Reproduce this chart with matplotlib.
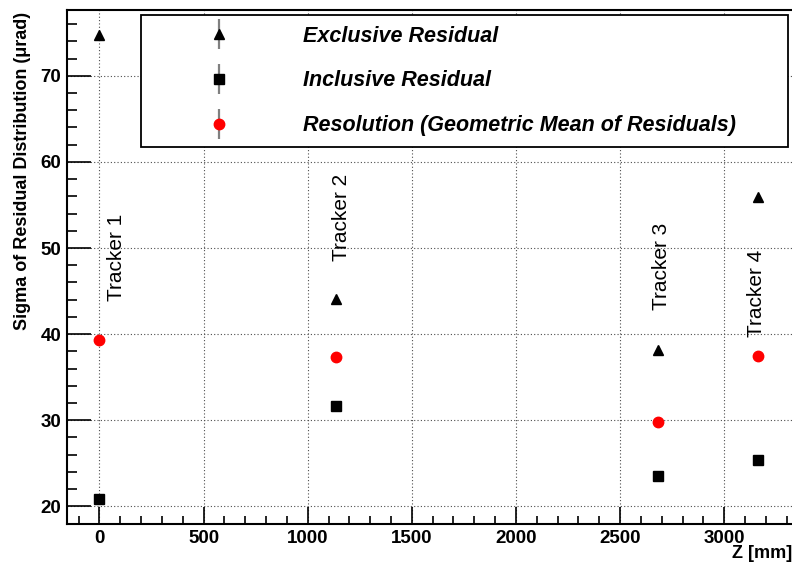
import numpy as np
import matplotlib
matplotlib.use('Agg')
import matplotlib.pyplot as plt
from matplotlib.ticker import MultipleLocator
from matplotlib.legend_handler import HandlerErrorbar

plt.rcParams['font.family'] = ['Liberation Sans', 'DejaVu Sans']

# Data
z_pos = [0, 1138, 2680, 3161]
exclusive = [74.7, 44.1, 38.2, 55.9]
inclusive = [20.9, 31.6, 23.5, 25.4]
resolution = [39.35, 37.3, 29.8, 37.5]
no_err = [0, 0, 0, 0]

tracker_names = ['Tracker 1', 'Tracker 2', 'Tracker 3', 'Tracker 4']
tracker_x = [84, 1161, 2699, 3156]
tracker_y = [43.9, 48.5, 42.8, 39.7]

# Figure and axes
fig = plt.figure(figsize=(7.92, 5.63), dpi=100)
ax = fig.add_axes([67/792, 1 - 524/563, 728/792, 514.5/563])

err_kw = dict(ecolor='0.5', elinewidth=1.6, capsize=0, linestyle='none')
h1 = ax.errorbar(z_pos, exclusive, yerr=no_err, fmt='^', color='black',
                 markersize=7, label='Exclusive Residual', **err_kw)
h2 = ax.errorbar(z_pos, inclusive, yerr=no_err, fmt='s', color='black',
                 markersize=7, label='Inclusive Residual', **err_kw)
h3 = ax.errorbar(z_pos, resolution, yerr=no_err, fmt='o', color='#ff0000',
                 markersize=7.5, label='Resolution (Geometric Mean of Residuals)', **err_kw)

# Tracker labels
for name, tx, ty in zip(tracker_names, tracker_x, tracker_y):
    ax.text(tx, ty, name, rotation=90, ha='center', va='bottom', fontsize=15)

# Axis ranges and ticks
ax.set_xlim(-156, 3340)
ax.set_ylim(17.95, 77.7)
ax.xaxis.set_major_locator(MultipleLocator(500))
ax.xaxis.set_minor_locator(MultipleLocator(100))
ax.yaxis.set_major_locator(MultipleLocator(10))
ax.yaxis.set_minor_locator(MultipleLocator(2))
ax.tick_params(which='both', direction='in', top=False, right=False,
               labelsize=13.5, color='black', width=1.2)
ax.tick_params(axis='x', which='major', length=12, pad=4)
ax.tick_params(axis='x', which='minor', length=6)
ax.tick_params(axis='y', which='major', length=17, pad=4)
ax.tick_params(axis='y', which='minor', length=7)
for lbl in ax.get_xticklabels() + ax.get_yticklabels():
    lbl.set_fontweight('bold')

ax.grid(True, which='major', color='0.3', linestyle=(0, (1, 2)), linewidth=0.8)
for sp in ax.spines.values():
    sp.set_linewidth(1.5)

# Axis titles
ax.set_ylabel('Sigma of Residual Distribution (\u03bcrad)', fontsize=13,
              fontweight='bold', loc='top')
ax.yaxis.set_label_coords(-0.05, 0.995)
ax.set_xlabel('Z [mm]', fontsize=13, fontweight='bold', loc='right')
ax.xaxis.set_label_coords(0.996, -0.04)

# Legend
leg = ax.legend(handles=[h1, h2, h3], loc='upper left',
                bbox_to_anchor=(140.5/792, 1 - 144/563, 647.5/792, 129/563),
                bbox_transform=fig.transFigure, mode='expand', borderaxespad=0,
                fancybox=False, framealpha=1, edgecolor='black',
                prop={'size': 15.5, 'weight': 'bold', 'style': 'italic'},
                handlelength=6.25, handletextpad=0.78, borderpad=0.5,
                labelspacing=1.1, handler_map={type(h1): HandlerErrorbar(yerr_size=0.7)})
leg.get_frame().set_linewidth(1.3)

plt.savefig('out.png', dpi=100)
